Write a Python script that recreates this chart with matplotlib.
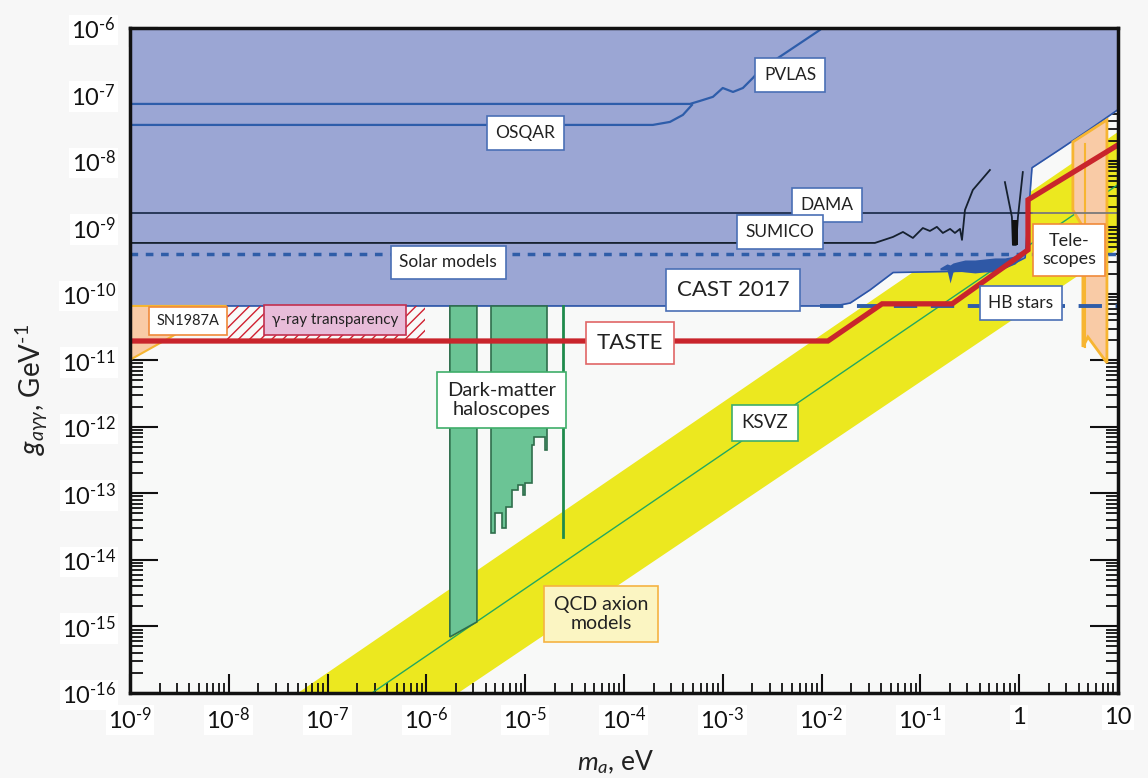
import numpy as np
import matplotlib.pyplot as plt
import matplotlib.ticker as ticker

plt.rcParams['font.family'] = ['Lato', 'DejaVu Sans']
plt.rcParams['mathtext.fontset'] = 'custom'
plt.rcParams['mathtext.rm'] = 'Lato'
plt.rcParams['mathtext.it'] = 'Lato:italic'

# --- data (axion mass m_a in eV, coupling g in GeV^-1) ---
x_ticks = [1e-9, 1e-8, 1e-7, 1e-6, 1e-5, 1e-4, 1e-3, 1e-2, 1e-1, 1, 10]
x_ticklabels = ['$10^{\\text{-9}}$', '$10^{\\text{-8}}$', '$10^{\\text{-7}}$', '$10^{\\text{-6}}$',
                '$10^{\\text{-5}}$', '$10^{\\text{-4}}$', '$10^{\\text{-3}}$', '$10^{\\text{-2}}$',
                '$10^{\\text{-1}}$', '1', '10']
y_ticks = [1e-16, 1e-15, 1e-14, 1e-13, 1e-12, 1e-11, 1e-10, 1e-9, 1e-8, 1e-7, 1e-6]
y_ticklabels = ['$10^{\\text{-16}}$', '$10^{\\text{-15}}$', '$10^{\\text{-14}}$', '$10^{\\text{-13}}$',
                '$10^{\\text{-12}}$', '$10^{\\text{-11}}$', '$10^{\\text{-10}}$', '$10^{\\text{-9}}$',
                '$10^{\\text{-8}}$', '$10^{\\text{-7}}$', '$10^{\\text{-6}}$']

# excluded (blue) region lower boundary: CAST + telescopes side
excl_m = [1e-9, 0.0137, 0.0195, 0.031, 0.053, 0.64, 1.15, 1.35, 2.6, 5.2, 10]
excl_g = [6.6e-11, 6.6e-11, 7.3e-11, 1.15e-10, 2.1e-10, 2.25e-10, 3.5e-10, 7.9e-9, 1.5e-8, 3.0e-8, 5.9e-8]

# CAST 2017 dark noisy part
cast_m = [0.158, 0.186, 0.2, 0.214, 0.235, 0.283, 0.357, 0.451, 0.569, 0.718, 0.91, 1.2]
cast_hi = [2.46e-10, 2.83e-10, 2.73e-10, 2.92e-10, 3.03e-10, 3.24e-10, 3.24e-10, 3.36e-10, 3.48e-10, 3.48e-10, 3.73e-10, 4.92e-10]
cast_lo = [2.3e-10, 2.3e-10, 1.46e-10, 2.14e-10, 2.22e-10, 2.14e-10, 2.07e-10, 2.14e-10, 2.14e-10, 2.46e-10, 2.83e-10, 4.28e-10]

pvlas_m = [1e-9, 4.66e-4, 5.87e-4, 7.96e-4, 1.0e-3, 1.27e-3, 1.6e-3, 2.02e-3, 2.38e-3, 4.8e-3, 9.6e-3]
pvlas_g = [7.2e-8, 7.2e-8, 7.98e-8, 9.2e-8, 1.25e-7, 1.09e-7, 1.25e-7, 1.77e-7, 2.33e-7, 4.67e-7, 9.3e-7]
osqar_m = [1e-9, 1.96e-4, 2.92e-4, 3.95e-4, 4.88e-4]
osqar_g = [3.48e-8, 3.48e-8, 3.86e-8, 4.92e-8, 6.95e-8]

dama_g = 1.66e-9
sumico_m = [1e-9, 0.0347, 0.0529, 0.0667, 0.0841, 0.106, 0.125, 0.147, 0.169, 0.20, 0.224, 0.252, 0.264, 0.283, 0.34, 0.506]
sumico_g = [5.85e-10, 5.85e-10, 7.2e-10, 8.55e-10, 6.95e-10, 9.8e-10, 8.85e-10, 1.02e-9, 8.26e-10, 9.5e-10,
            8.26e-10, 9.5e-10, 6.5e-10, 1.83e-9, 3.66e-9, 7.3e-9]
sumico2_m = [0.718, 0.845, 0.865, 0.93, 0.973, 1.09]
sumico2_g = [4.8e-9, 1.44e-9, 5.46e-10, 5.46e-10, 1.44e-9, 6.8e-9]

solar_g = 4.0e-10
hb_m = [9.6e-3, 10]
hb_g = 6.6e-11

taste_m = [1e-9, 0.0116, 0.041, 0.21, 1.23, 1.23, 10]
taste_g = [1.96e-11, 1.96e-11, 7.1e-11, 7.1e-11, 4.6e-10, 2.6e-9, 1.74e-8]

# QCD axion band and KSVZ line
band_m = [1e-8, 10]
band_hi = [2.0e-17, 2.8e-8]
band_lo = [4.9e-19, 4.9e-10]
ksvz_m = [1e-8, 10]
ksvz_g = [3.4e-18, 4.4e-9]

# haloscopes
halo1_m = [1.73e-6, 1.73e-6, 3.25e-6, 3.25e-6]
halo1_g = [6.6e-11, 6.95e-16, 1.17e-15, 6.6e-11]
halo2_edges = [4.5e-6, 4.9e-6, 5.8e-6, 6.4e-6, 7.3e-6, 8.5e-6, 9.5e-6, 1.0e-5, 1.17e-5, 1.23e-5, 1.58e-5, 1.66e-5]
halo2_floor = [2.55e-14, 5.1e-14, 3.0e-14, 6.3e-14, 1.13e-13, 1.34e-13, 9.5e-14, 1.44e-13, 5.4e-13, 7.1e-13, 4.5e-13]
halo3_m = 2.42e-5
halo3_g = [6.6e-11, 2.22e-14]

# astrophysics
sn_m = [1e-9, 9.5e-9, 1e-9]
sn_g = [6.6e-11, 6.6e-11, 1.02e-11]
gamma_m = [9.5e-9, 9.8e-7]
gamma_g = [2.0e-11, 6.6e-11]
tele_m = [3.5, 7.74, 7.74, 4.97, 4.42, 4.42, 3.5]
tele_g = [1.93e-8, 4.14e-8, 9.2e-12, 2.25e-11, 1.6e-11, 1.02e-9, 1.83e-9]

g_top = 1e-6

# --- figure ---
fig = plt.figure(figsize=(11.48, 7.78), dpi=100, facecolor='#f7f7f7')
ax = fig.add_axes([0.1132, 0.1093, 0.8606, 0.8548], facecolor='#f8f9f8')
ax.set_xscale('log')
ax.set_yscale('log')
ax.set_xlim(1e-9, 10)
ax.set_ylim(1e-16, 1e-6)

# QCD band + KSVZ
ax.fill_between(band_m, band_lo, band_hi, color='#ece81f', lw=0, zorder=1)
ax.plot(ksvz_m, ksvz_g, color='#22a860', lw=1.0, zorder=2)

# excluded region
ax.fill_between(excl_m, excl_g, g_top, color='#9ba6d4', lw=0, zorder=3)
ax.plot(excl_m, excl_g, color='#2b55a8', lw=1.2, zorder=3)
ax.fill_between(cast_m, cast_lo, cast_hi, color='#2f58a6', lw=0, zorder=4)

# haloscopes
ax.fill(halo1_m, halo1_g, facecolor='#6bc495', edgecolor='#2f6e4c', lw=1.2, zorder=4)
hx = np.repeat(halo2_edges, 2)[1:-1]
hy = np.repeat(halo2_floor, 2)
hx = np.concatenate([[halo2_edges[0]], hx, [halo2_edges[-1]]])
hy = np.concatenate([[6.6e-11], hy, [6.6e-11]])
ax.fill(hx, hy, facecolor='#6bc495', edgecolor='#2f6e4c', lw=1.2, zorder=4)
ax.plot([halo3_m, halo3_m], halo3_g, color='#1f8a4c', lw=2, zorder=4)

# astrophysical bounds
ax.fill(sn_m, sn_g, facecolor='#f9cba6', edgecolor='#f5b531', lw=1.5, zorder=4)
ax.fill_between(gamma_m, gamma_g[0], gamma_g[1], facecolor='none', edgecolor='#d02030',
                hatch='///', lw=0, zorder=4)
ax.fill(tele_m, tele_g, facecolor='#f9cba6', edgecolor='#f7b531', lw=2, zorder=4)
ax.plot([4.63, 4.63], [1.8e-8, 1.6e-11], color='#f7b531', lw=1.5, zorder=4)

# experiment lines
ax.plot(pvlas_m, pvlas_g, color='#2e5daa', lw=1.6, zorder=5)
ax.plot(osqar_m, osqar_g, color='#2e5daa', lw=1.6, zorder=5)
ax.plot([1e-9, 1.35], [dama_g, dama_g], color='#1f3050', lw=1.3, zorder=5)
ax.plot([1.35, 10], [dama_g, dama_g], color='#7a7a7a', lw=1.3, zorder=5)
ax.plot(sumico_m, sumico_g, color='#15202e', lw=1.3, zorder=5)
ax.plot(sumico2_m, sumico2_g, color='#15202e', lw=1.3, zorder=5)
ax.fill_between([0.845, 0.973], 5.46e-10, 1.3e-9, color='#111111', lw=0, zorder=5)
ax.axhline(solar_g, color='#2f5da8', lw=2.5, ls=(0, (2.2, 2.2)), zorder=6)
ax.plot(hb_m, [hb_g, hb_g], color='#2f5da8', lw=2.8, ls=(0, (6, 3.5)), zorder=6)

# TASTE
ax.plot(taste_m, taste_g, color='#c9252c', lw=3.8, solid_joinstyle='miter', zorder=7)

# labels
def box(x, y, s, size, edge, face='white'):
    ax.text(x, y, s, fontsize=size, ha='center', va='center', color='#222222',
            linespacing=1.15, zorder=10,
            bbox=dict(boxstyle='square,pad=0.5', facecolor=face, edgecolor=edge, lw=1.2))

blue = '#4a6fb5'
box(4.8e-3, 1.96e-7, 'PVLAS', 12.5, blue)
box(1e-5, 2.64e-8, 'OSQAR', 12.5, blue)
box(0.0114, 2.18e-9, 'DAMA', 12.5, blue)
box(3.8e-3, 8.55e-10, 'SUMICO', 12.5, blue)
box(1.66e-6, 3.0e-10, 'Solar models', 12.5, blue)
box(1.27e-3, 1.15e-10, 'CAST 2017', 16, blue)
box(3.86e-9, 3.93e-11, 'SN1987A', 10.5, '#f08a3a')
box(1.19e-7, 4.07e-11, 'γ-ray transparency', 11, '#c2304f', face='#e8bcd9')
box(1.15e-4, 1.83e-11, 'TASTE', 16, '#e06666')
box(5.8e-6, 2.55e-12, 'Dark-matter\nhaloscopes', 14.5, '#3fae6a')
box(2.67e-3, 1.15e-12, 'KSVZ', 13.5, '#3fae6a')
box(5.85e-5, 1.55e-15, 'QCD axion\nmodels', 14, '#f5b342', face='#fbf5c2')
box(1.04, 7.3e-11, 'HB stars', 12.5, blue)
box(3.19, 4.6e-10, 'Tele-\nscopes', 13, '#f08a3a')

# axes styling
ax.xaxis.set_major_locator(ticker.FixedLocator(x_ticks))
ax.xaxis.set_major_formatter(ticker.FixedFormatter(x_ticklabels))
ax.yaxis.set_major_locator(ticker.FixedLocator(y_ticks))
ax.yaxis.set_major_formatter(ticker.FixedFormatter(y_ticklabels))
ax.xaxis.set_minor_locator(ticker.LogLocator(base=10, subs=np.arange(2, 10), numticks=200))
ax.yaxis.set_minor_locator(ticker.LogLocator(base=10, subs=np.arange(2, 10), numticks=200))
ax.xaxis.set_minor_formatter(ticker.NullFormatter())
ax.yaxis.set_minor_formatter(ticker.NullFormatter())
ax.tick_params(which='both', direction='in', top=True, right=True, colors='#111111',
               labelsize=17, zorder=12)
ax.tick_params(axis='x', which='major', length=14, width=1.5, pad=10)
ax.tick_params(axis='x', which='minor', length=7, width=1.3)
ax.tick_params(axis='y', which='major', length=20, width=1.5, pad=10)
ax.tick_params(axis='y', which='minor', length=9, width=1.3)
for sp in ax.spines.values():
    sp.set_linewidth(2.5)
    sp.set_color('#111111')
    sp.set_zorder(12)
for lbl in ax.get_xticklabels() + ax.get_yticklabels():
    lbl.set_bbox(dict(facecolor='white', edgecolor='none', pad=1.5))

fig.text(0.028, 0.499, '$g_{a\\gamma\\gamma}$, GeV$^{\\text{-1}}$', rotation=90, fontsize=20,
         ha='center', va='center', color='#222222')
fig.text(0.536, 0.02, '$m_a$, eV', fontsize=19, ha='center', va='center', color='#222222')

fig.savefig('out.png', dpi=100, facecolor=fig.get_facecolor())
